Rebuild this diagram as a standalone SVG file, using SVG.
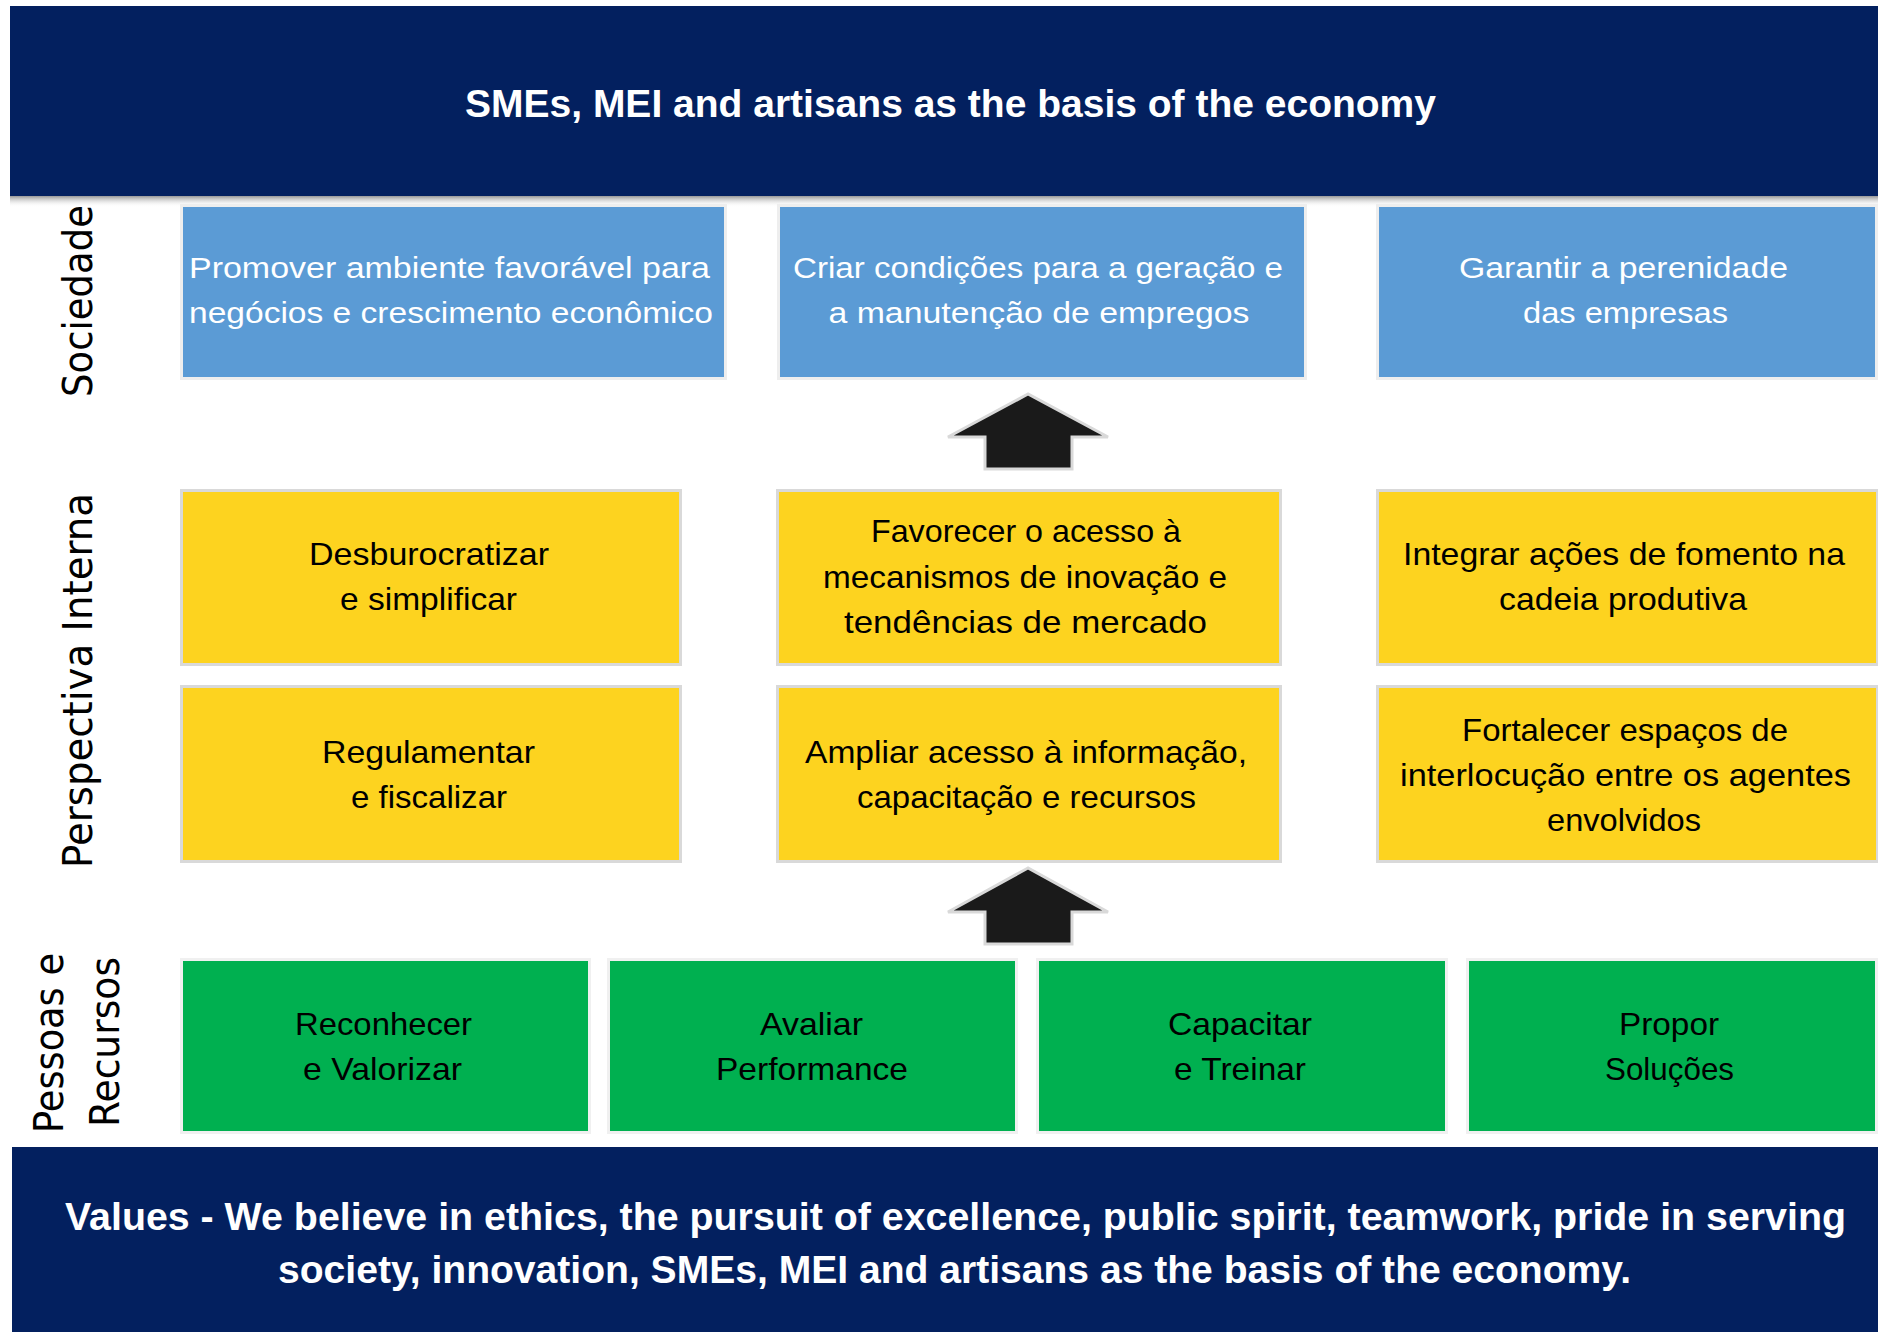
<svg xmlns="http://www.w3.org/2000/svg" width="1878" height="1332" viewBox="0 0 1878 1332">
<defs>
<linearGradient id="shadow" x1="0" y1="0" x2="0" y2="1">
<stop offset="0" stop-color="#8c8c8c" stop-opacity="0.9"/>
<stop offset="1" stop-color="#ffffff" stop-opacity="0"/>
</linearGradient>
<style>
.banner{fill:#03205f}
.btxt{font-family:"Liberation Sans",Arial,sans-serif;font-weight:bold;font-size:39px;fill:#ffffff;text-anchor:middle}
.blue{fill:#5b9bd5;stroke:#eeeeee;stroke-width:3}
.yel{fill:#fdd31f;stroke:#d9d9d9;stroke-width:3}
.grn{fill:#00b050;stroke:#f0f0f0;stroke-width:3}
.t{font-family:"Liberation Sans",Arial,sans-serif;text-anchor:middle}
.tw{font-size:30px;fill:#ffffff}
.tk{font-size:32px;fill:#000000}
.side{font-family:"DejaVu Sans",Verdana,sans-serif;font-size:41px;fill:#000000;text-anchor:middle}
.arrow{fill:#1a1a1a;stroke:#d9d9d9;stroke-width:3;stroke-linejoin:miter}
</style>
</defs>
<rect width="1878" height="1332" fill="#ffffff"/>

<g id="top-banner">
<rect x="10" y="196" width="1868" height="11" fill="url(#shadow)"/>
<rect class="banner" x="10" y="6" width="1868" height="190"/>
<text class="btxt" x="950.5" y="117" textLength="971" lengthAdjust="spacingAndGlyphs">SMEs, MEI and artisans as the basis of the economy</text>
</g>

<g id="label-sociedade"><text class="side" transform="translate(92,301) rotate(-90)" textLength="192" lengthAdjust="spacingAndGlyphs">Sociedade</text></g>
<g id="label-perspectiva"><text class="side" transform="translate(92,680.5) rotate(-90)" textLength="375" lengthAdjust="spacingAndGlyphs">Perspectiva Interna</text></g>
<g id="label-pessoas">
<text class="side" transform="translate(63,1043) rotate(-90)" textLength="180" lengthAdjust="spacingAndGlyphs">Pessoas e</text>
<text class="side" transform="translate(119,1042) rotate(-90)" textLength="170" lengthAdjust="spacingAndGlyphs">Recursos</text>
</g>

<g id="soc-1">
<rect class="blue" x="181.5" y="205.5" width="544" height="173"/>
<text class="t tw" x="449.5" y="278" textLength="521" lengthAdjust="spacingAndGlyphs">Promover ambiente favorável para</text>
<text class="t tw" x="451" y="323" textLength="524" lengthAdjust="spacingAndGlyphs">negócios e crescimento econômico</text>
</g>
<g id="soc-2">
<rect class="blue" x="778.5" y="205.5" width="527" height="173"/>
<text class="t tw" x="1038" y="278" textLength="490" lengthAdjust="spacingAndGlyphs">Criar condições para a geração e</text>
<text class="t tw" x="1039" y="323" textLength="421" lengthAdjust="spacingAndGlyphs">a manutenção de empregos</text>
</g>
<g id="soc-3">
<rect class="blue" x="1377.5" y="205.5" width="499" height="173"/>
<text class="t tw" x="1623.5" y="278" textLength="329" lengthAdjust="spacingAndGlyphs">Garantir a perenidade</text>
<text class="t tw" x="1625.5" y="323" textLength="205" lengthAdjust="spacingAndGlyphs">das empresas</text>
</g>

<g id="int-1">
<rect class="yel" x="181.5" y="490.5" width="499" height="174"/>
<text class="t tk" x="429" y="565" textLength="240" lengthAdjust="spacingAndGlyphs">Desburocratizar</text>
<text class="t tk" x="428.5" y="610" textLength="177" lengthAdjust="spacingAndGlyphs">e simplificar</text>
</g>
<g id="int-2">
<rect class="yel" x="777.5" y="490.5" width="503" height="174"/>
<text class="t tk" x="1026" y="542" textLength="310" lengthAdjust="spacingAndGlyphs">Favorecer o acesso à</text>
<text class="t tk" x="1025" y="588" textLength="404" lengthAdjust="spacingAndGlyphs">mecanismos de inovação e</text>
<text class="t tk" x="1025.5" y="633" textLength="363" lengthAdjust="spacingAndGlyphs">tendências  de mercado</text>
</g>
<g id="int-3">
<rect class="yel" x="1377.5" y="490.5" width="500" height="174"/>
<text class="t tk" x="1624" y="565" textLength="442" lengthAdjust="spacingAndGlyphs">Integrar ações de fomento na</text>
<text class="t tk" x="1623" y="610" textLength="248" lengthAdjust="spacingAndGlyphs">cadeia produtiva</text>
</g>
<g id="int-4">
<rect class="yel" x="181.5" y="686.5" width="499" height="175"/>
<text class="t tk" x="428.5" y="763" textLength="213" lengthAdjust="spacingAndGlyphs">Regulamentar</text>
<text class="t tk" x="429" y="808" textLength="156" lengthAdjust="spacingAndGlyphs">e fiscalizar</text>
</g>
<g id="int-5">
<rect class="yel" x="777.5" y="686.5" width="503" height="175"/>
<text class="t tk" x="1026" y="763" textLength="442" lengthAdjust="spacingAndGlyphs">Ampliar acesso à informação,</text>
<text class="t tk" x="1026.5" y="808" textLength="339" lengthAdjust="spacingAndGlyphs">capacitação e recursos</text>
</g>
<g id="int-6">
<rect class="yel" x="1377.5" y="686.5" width="500" height="175"/>
<text class="t tk" x="1625" y="741" textLength="326" lengthAdjust="spacingAndGlyphs">Fortalecer espaços de</text>
<text class="t tk" x="1625.5" y="786" textLength="451" lengthAdjust="spacingAndGlyphs">interlocução entre os agentes</text>
<text class="t tk" x="1624" y="831" textLength="154" lengthAdjust="spacingAndGlyphs">envolvidos</text>
</g>

<g id="pes-1">
<rect class="grn" x="181.5" y="959.5" width="408" height="173"/>
<text class="t tk" x="383.5" y="1035" textLength="177" lengthAdjust="spacingAndGlyphs">Reconhecer</text>
<text class="t tk" x="382.5" y="1080" textLength="159" lengthAdjust="spacingAndGlyphs">e Valorizar</text>
</g>
<g id="pes-2">
<rect class="grn" x="608.5" y="959.5" width="408" height="173"/>
<text class="t tk" x="811.5" y="1035" textLength="103" lengthAdjust="spacingAndGlyphs">Avaliar</text>
<text class="t tk" x="812" y="1080" textLength="192" lengthAdjust="spacingAndGlyphs">Performance</text>
</g>
<g id="pes-3">
<rect class="grn" x="1037.5" y="959.5" width="409" height="173"/>
<text class="t tk" x="1240" y="1035" textLength="144" lengthAdjust="spacingAndGlyphs">Capacitar</text>
<text class="t tk" x="1240" y="1080" textLength="132" lengthAdjust="spacingAndGlyphs">e Treinar</text>
</g>
<g id="pes-4">
<rect class="grn" x="1467.5" y="959.5" width="409" height="173"/>
<text class="t tk" x="1669" y="1035" textLength="100" lengthAdjust="spacingAndGlyphs">Propor</text>
<text class="t tk" x="1669.5" y="1080" textLength="129" lengthAdjust="spacingAndGlyphs">Soluções</text>
</g>

<g id="connectors">
<polygon class="arrow" points="1028,394 948,437 985,437 985,469 1072,469 1072,437 1108,437"/>
<polygon class="arrow" points="1028,868 948,912 985,912 985,944 1072,944 1072,912 1108,912"/>
</g>

<g id="bottom-banner">
<rect class="banner" x="12" y="1147" width="1866" height="185"/>
<text class="btxt" x="955.5" y="1230" textLength="1781" lengthAdjust="spacingAndGlyphs">Values - We believe in ethics, the pursuit of excellence, public spirit, teamwork, pride in serving</text>
<text class="btxt" x="954.5" y="1283" textLength="1353" lengthAdjust="spacingAndGlyphs">society, innovation, SMEs, MEI and artisans as the basis of the economy.</text>
</g>
</svg>
